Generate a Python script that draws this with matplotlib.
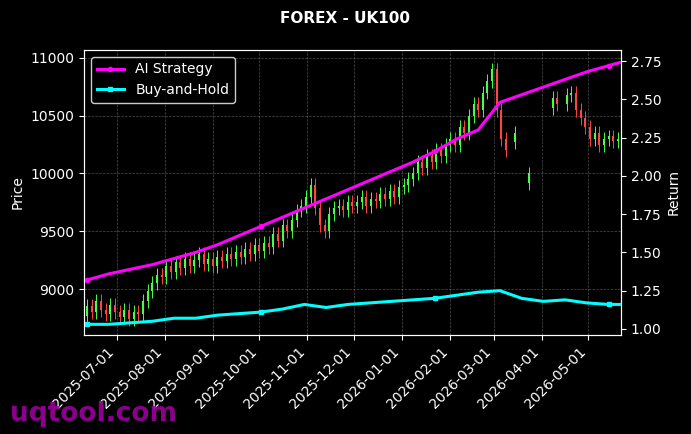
import matplotlib
matplotlib.use("Agg")
import matplotlib.pyplot as plt
import matplotlib.dates as mdates
import numpy as np
import pandas as pd

nan = np.nan
# candles every 3 days
candle_start = "2025-06-12"
closes = [8850, 8800, 8900, 8820, 8780, 8860, 8800,
          8760, 8820, 8740, 8800, 8780, 8900, 8980, 9050, 9120, 9100,
          9200, 9150, 9230, 9180, 9260, 9200, 9250, 9300, 9220, 9260,
          9200, 9280, 9240, 9300, 9260, 9320, 9280, 9350, 9300, 9380,
          9330, 9400, 9360, 9480, 9420, 9550, 9500, 9600, 9680, 9720, 9800,
          9900, 9700, 9550, 9500, 9650, 9700, 9720, 9680, 9750, 9720,
          9750, 9800, 9720, 9780, 9760, 9820, 9780, 9850, 9800, 9880,
          9900, 9950, 10000, 10100, 10050, 10150, 10100, 10200, 10150, 10250,
          10300, 10250, 10400, 10350, 10500, 10600, 10550, 10700, 10800, 10900,
          10550, 10300, 10200, nan, 10350, nan, nan, 10000, nan, nan,
          nan, nan, 10650, 10600, nan, 10680, 10700, 10550, 10480, 10400,
          10300, 10350, 10250, 10300, 10320, 10280, 10300]

# strategy curves every 14 days, plus final point
curve_dates = list(pd.date_range("2025-06-12", periods=25, freq="14D")) + [pd.Timestamp("2026-05-21")]
ai_strategy = [1.32, 1.36, 1.39, 1.42, 1.46, 1.50, 1.55, 1.61, 1.67, 1.73, 1.79, 1.85, 1.91,
               1.97, 2.03, 2.09, 2.16, 2.24, 2.30, 2.48, 2.53, 2.58, 2.63, 2.68, 2.72, 2.74]
buy_hold = [1.03, 1.03, 1.04, 1.05, 1.07, 1.07, 1.09, 1.10, 1.11, 1.13, 1.16, 1.14, 1.16,
            1.17, 1.18, 1.19, 1.20, 1.22, 1.24, 1.25, 1.20, 1.18, 1.19, 1.17, 1.16, 1.16]

cdates = pd.date_range(candle_start, periods=len(closes), freq="3D")
opens = []
prev = nan
for c in closes:
    opens.append(prev if not np.isnan(prev) else c - 80)
    prev = c

fig = plt.figure(figsize=(6.91, 4.34), dpi=100, facecolor="black")
ax = fig.add_axes([0.1216, 0.228, 0.777, 0.657], facecolor="black")
for d, o, c in zip(cdates, opens, closes):
    if np.isnan(c):
        continue
    col = "#44ff44" if c >= o else "#ff4444"
    x = mdates.date2num(d)
    ax.vlines(x, min(o, c) - 60, max(o, c) + 60, color=col, linewidth=0.7)
    ax.vlines(x, min(o, c), max(o, c), color=col, linewidth=1.5)

ax.set_ylim(8602, 11069)
ax.set_xlim(pd.Timestamp("2025-06-10"), pd.Timestamp("2026-05-22"))
ax.set_ylabel("Price", color="white")
ax.grid(True, color="gray", linestyle="--", linewidth=0.5, alpha=0.6)
ax.xaxis.set_major_locator(mdates.MonthLocator())
ax.xaxis.set_major_formatter(mdates.DateFormatter("%Y-%m-%d"))
plt.setp(ax.get_xticklabels(), rotation=45, ha="right")
ax.tick_params(colors="white")
for s in ax.spines.values():
    s.set_color("white")

ax2 = ax.twinx()
ax2.plot(curve_dates, ai_strategy, color="magenta", linewidth=2.2, marker="o", markersize=3,
         markevery=8, label="AI Strategy")
ax2.plot(curve_dates, buy_hold, color="cyan", linewidth=2.2, marker="s", markersize=3,
         markevery=8, label="Buy-and-Hold")
ax2.set_ylim(0.96, 2.823)
ax2.set_ylabel("Return", color="white")
ax2.tick_params(colors="white")
for s in ax2.spines.values():
    s.set_color("white")
leg = ax2.legend(loc="upper left", facecolor="black", edgecolor="white", fontsize=10)
for t in leg.get_texts():
    t.set_color("white")

fig.suptitle("FOREX - UK100", color="white", fontweight="bold", fontsize=11, y=0.975)
fig.text(0.015, 0.03, "uqtool.com", color="#9b009b", fontsize=19, fontweight="bold", alpha=0.9)

fig.savefig("out.png", dpi=100, facecolor="black")
